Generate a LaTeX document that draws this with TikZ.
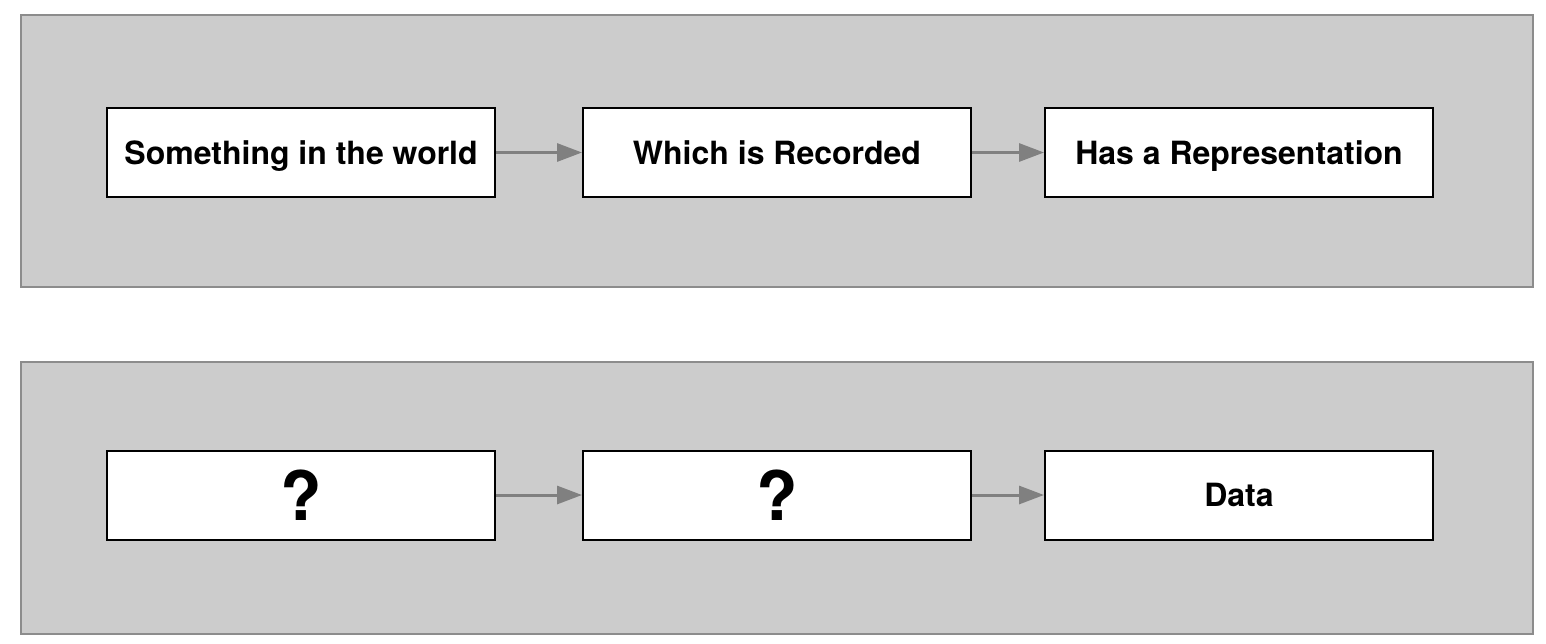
\documentclass[tikz,border=0pt]{standalone}
\usepackage{fontspec}
\setmainfont{TeX Gyre Heros}
\usetikzlibrary{arrows.meta}
\definecolor{panelfill}{HTML}{CCCCCC}
\definecolor{panelline}{HTML}{8C8C8C}
\definecolor{arrowgray}{HTML}{808080}
\begin{document}
\begin{tikzpicture}[x=1pt,y=-1pt,
  panel/.style={draw=panelline,fill=panelfill,line width=2pt},
  stepbox/.style={draw=black,fill=white,line width=2pt,minimum width=388pt,minimum height=89pt,inner sep=0pt,text height=23pt,text depth=-1pt,font=\fontsize{32}{36}\selectfont\bfseries},
  qbox/.style={draw=black,fill=white,line width=2pt,minimum width=388pt,minimum height=89pt,inner sep=0pt,font=\fontsize{68}{76}\selectfont\bfseries},
  flow/.style={draw=arrowgray,line width=3pt,-{Triangle[length=25pt,width=18pt]}}
]
\useasboundingbox (0,0) rectangle (1546,643);
\draw[panel] (21,15) rectangle (1533,287);
\draw[panel] (21,362) rectangle (1533,634);
\node[stepbox] (a1) at (301,152.5) {Something in the world};
\node[stepbox] (a2) at (777,152.5) {Which is Recorded};
\node[stepbox] (a3) at (1239,152.5) {Has a Representation};
\node[qbox] (b1) at (301,495) {?};
\node[qbox] (b2) at (777,495) {?};
\node[stepbox] (b3) at (1239,495) {Data};
\draw[flow] (a1) -- (a2);
\draw[flow] (a2) -- (a3);
\draw[flow] (b1) -- (b2);
\draw[flow] (b2) -- (b3);
\end{tikzpicture}
\end{document}
